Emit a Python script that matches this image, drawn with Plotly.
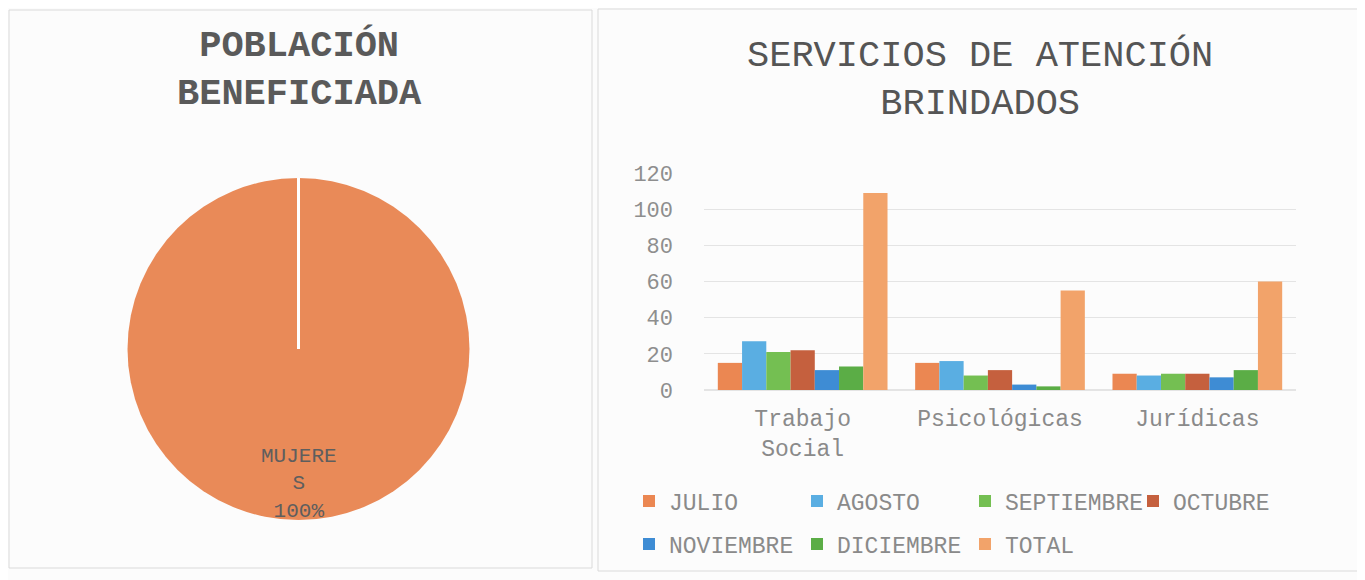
import plotly.graph_objects as go

# ---------------- data ----------------
pie_labels = ["MUJERES"]
pie_values = [100]

categories = ["Trabajo<br>Social", "Psicológicas", "Jurídicas"]
series_names = ["JULIO", "AGOSTO", "SEPTIEMBRE", "OCTUBRE", "NOVIEMBRE", "DICIEMBRE", "TOTAL"]
julio = [15, 15, 9]
agosto = [27, 16, 8]
septiembre = [21, 8, 9]
octubre = [22, 11, 9]
noviembre = [11, 3, 7]
diciembre = [13, 2, 11]
total = [109, 55, 60]
series_values = [julio, agosto, septiembre, octubre, noviembre, diciembre, total]
series_colors = ["#EB8752", "#5AAEE2", "#74BF52", "#C5603E", "#3E8CD4", "#5BAD46", "#F2A36A"]
legend_row = ["legend", "legend", "legend", "legend", "legend2", "legend2", "legend2"]
y_ticks = [0, 20, 40, 60, 80, 100, 120]

# the page body adds an 8px margin, so the figure is laid out in page pixels minus 8
OFF = 8
W, H = 1365 - OFF, 580 - OFF
FONT = "Liberation Mono, Courier New, monospace"


def px(x):
    return (x - OFF) / W


def py(y):
    return 1 - (y - OFF) / H


fig = go.Figure()

# ---------------- pie ----------------
pcx, pcy, pr = 298.5, 349.0, 171.0
fig.add_trace(go.Pie(
    labels=pie_labels, values=pie_values, sort=False, direction="clockwise",
    marker=dict(colors=["#E98A58"], line=dict(width=0)),
    textinfo="none", showlegend=False, hoverinfo="label+percent",
    domain=dict(x=[px(pcx - pr), px(pcx + pr)], y=[py(pcy + pr), py(pcy - pr)]),
))

# ---------------- bars ----------------
for name, vals, col, lg in zip(series_names, series_values, series_colors, legend_row):
    fig.add_trace(go.Bar(
        x=categories, y=vals, name=name, marker=dict(color=col, line=dict(width=0)),
        xaxis="x", yaxis="y", legend=lg,
    ))

shapes = [
    dict(type="rect", xref="paper", yref="paper", x0=px(9), x1=px(592), y0=py(568), y1=py(10),
         line=dict(color="#DADADA", width=1), fillcolor="rgba(0,0,0,0)", layer="below"),
    dict(type="rect", xref="paper", yref="paper", x0=px(598), x1=px(1360), y0=py(571), y1=py(9),
         line=dict(color="#DADADA", width=1), fillcolor="rgba(0,0,0,0)", layer="below"),
    dict(type="line", xref="paper", yref="paper", x0=px(pcx), x1=px(pcx), y0=py(pcy), y1=py(pcy - pr),
         line=dict(color="white", width=3), layer="above"),
]

pct = round(100 * pie_values[0] / sum(pie_values))
lab = pie_labels[0]
annotations = [
    dict(text="<b>POBLACIÓN<br>BENEFICIADA</b>", x=px(299), y=py(70), xref="paper", yref="paper",
         showarrow=False, xanchor="center", yanchor="middle",
         font=dict(family=FONT, size=37, color="#5A5A5A")),
    dict(text="SERVICIOS DE ATENCIÓN<br>BRINDADOS", x=px(980), y=py(79), xref="paper", yref="paper",
         showarrow=False, xanchor="center", yanchor="middle",
         font=dict(family=FONT, size=37, color="#555555")),
    dict(text=f"{lab[:-1]}<br>{lab[-1]}<br>{pct}%", x=px(pcx), y=py(484), xref="paper", yref="paper",
         showarrow=False, xanchor="center", yanchor="middle",
         font=dict(family=FONT, size=21, color="#5E5E5E")),
]

leg_common = dict(orientation="h", xanchor="left", yanchor="middle",
                  font=dict(family=FONT, size=23, color="#8A8A8A"), entrywidth=123,
                  bgcolor="rgba(0,0,0,0)", traceorder="normal", itemwidth=30)

fig.update_layout(
    width=W, height=H,
    margin=dict(l=0, r=0, t=0, b=0, autoexpand=False),
    paper_bgcolor="#FCFCFC", plot_bgcolor="rgba(0,0,0,0)",
    barmode="group", bargap=0.14, bargroupgap=0,
    xaxis=dict(domain=[px(704), px(1296)], anchor="y", showgrid=False, zeroline=False,
               showline=False, ticks="", ticklabelstandoff=12,
               tickfont=dict(family=FONT, size=23, color="#8A8A8A")),
    yaxis=dict(domain=[py(390), py(173)], anchor="x", range=[0, 120], tickvals=y_ticks,
               showgrid=True, gridcolor="#E4E4E4", gridwidth=1, zeroline=True, zerolinecolor="#E4E4E4",
               showline=False, ticks="", ticklabelstandoff=30,
               tickfont=dict(family=FONT, size=22, color="#8E8E8E")),
    legend=dict(x=px(629), y=py(501), **leg_common),
    legend2=dict(x=px(629), y=py(544), **leg_common),
    shapes=shapes, annotations=annotations,
    showlegend=True,
)

fig.write_html("out.html")
